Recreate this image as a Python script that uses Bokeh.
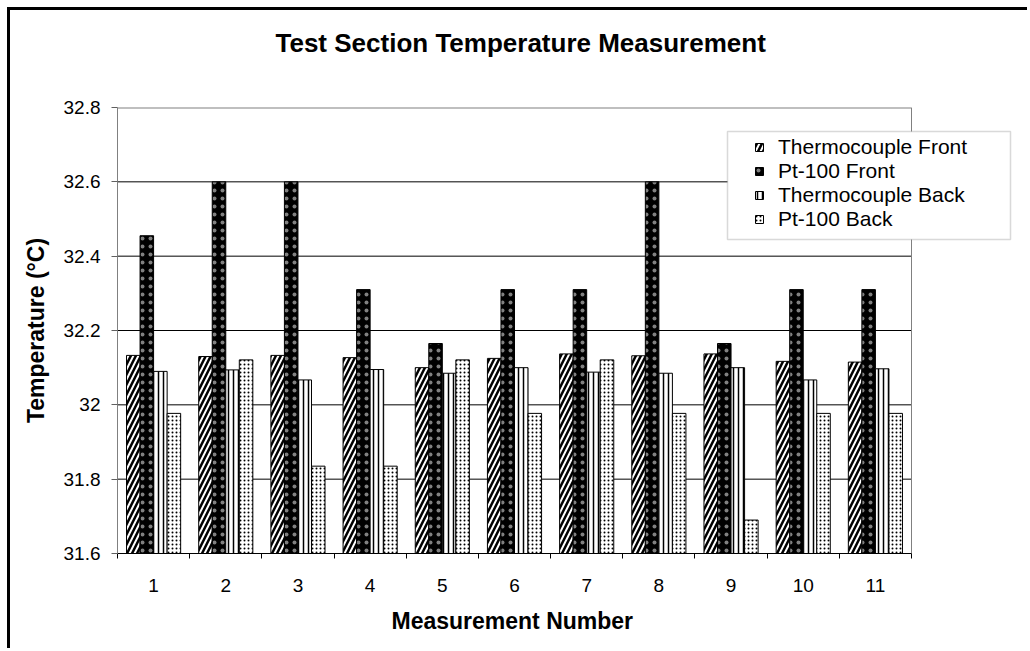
from bokeh.plotting import figure
from bokeh.models import (ColumnDataSource, FixedTicker, NumeralTickFormatter, Legend, LegendItem,
                          Range1d, BoxAnnotation, Title)
from bokeh.transform import dodge
from bokeh.embed import file_html
from bokeh.resources import INLINE

measurements = [1, 2, 3, 4, 5, 6, 7, 8, 9, 10, 11]
tc_front = [32.133, 32.130, 32.133, 32.127, 32.100, 32.125, 32.137, 32.132, 32.137, 32.117, 32.115]
pt_front = [32.455, 32.600, 32.600, 32.310, 32.165, 32.310, 32.310, 32.600, 32.165, 32.310, 32.310]
tc_back = [32.090, 32.094, 32.067, 32.095, 32.085, 32.100, 32.088, 32.085, 32.100, 32.067, 32.097]
pt_back = [31.977, 32.121, 31.835, 31.835, 32.121, 31.977, 32.121, 31.977, 31.690, 31.977, 31.977]
y_ticks = [31.6, 31.8, 32.0, 32.2, 32.4, 32.6, 32.8]
series_names = ["Thermocouple Front", "Pt-100 Front", "Thermocouple Back", "Pt-100 Back"]
chart_title = "Test Section Temperature Measurement"
x_title = "Measurement Number"
y_title = "Temperature (°C)"

src = ColumnDataSource(dict(x=measurements, tcf=tc_front, ptf=pt_front, tcb=tc_back, ptb=pt_back))

# layout (pixels); the figure sits 10px in from the window's top-left corner
W, H = 1020, 641
ML, MR, MT, MB = 107, 5, 97, 98
plot_px = 794                       # width of the visible category area
frame_px = W - ML - MR
n = len(measurements)
x0 = 0.5
x_end_cat = n + 0.5
x_end = x0 + n * frame_px / plot_px

p = figure(width=W, height=H, output_backend="svg", toolbar_location=None,
           x_range=Range1d(x0, x_end), y_range=Range1d(y_ticks[0], y_ticks[-1]),
           min_border_left=ML, min_border_right=MR, min_border_top=MT, min_border_bottom=MB,
           title=None)
p.styles = {"margin-left": "7px", "margin-top": "7px",
            "border-left": "3px solid black", "border-top": "3px solid black"}
p.outline_line_color = None

F = "Liberation Sans"

# titles in the side panels (first one added above sits next to the frame)
p.add_layout(Title(text=" ", text_font_size="10px", standoff=37), "above")
p.add_layout(Title(text=chart_title, text_font=F, text_font_size="26px", text_font_style="bold",
                   text_color="black", align="left", offset=158, standoff=0), "above")
p.add_layout(Title(text=x_title, text_font=F, text_font_size="23px", text_font_style="bold",
                   text_color="black", align="left", offset=274, standoff=22), "below")

# gridlines and plot-area edges restricted to the category area
grid_y = y_ticks[1:-1]
p.segment(x0=[x0] * len(grid_y), x1=[x_end_cat] * len(grid_y), y0=grid_y, y1=grid_y,
          line_color="black", line_width=1)
p.segment(x0=[x0], x1=[x_end_cat], y0=[y_ticks[-1]], y1=[y_ticks[-1]], line_color="#808080", line_width=2)
p.segment(x0=[x_end_cat], x1=[x_end_cat], y0=[y_ticks[0]], y1=[y_ticks[-1]], line_color="#808080", line_width=1)

w = 0.1875
base = y_ticks[0]
common = dict(width=w, bottom=base, source=src, line_color="black", line_width=1)
r1 = p.vbar(x=dodge("x", -1.5 * w, range=p.x_range), top="tcf", fill_color="white",
            hatch_pattern="right_diagonal_line", hatch_color="black", hatch_scale=10, hatch_weight=2.5, **common)
r2 = p.vbar(x=dodge("x", -0.5 * w, range=p.x_range), top="ptf", fill_color="black",
            hatch_pattern="dot", hatch_color="white", hatch_scale=8, hatch_weight=0.5, hatch_alpha=0.5, **common)
r3 = p.vbar(x=dodge("x", 0.5 * w, range=p.x_range), top="tcb", fill_color="white",
            hatch_pattern="vertical_line", hatch_color="black", hatch_scale=5, hatch_weight=1.5, **common)
r4 = p.vbar(x=dodge("x", 1.5 * w, range=p.x_range), top="ptb", fill_color="white",
            hatch_pattern="dot", hatch_color="black", hatch_scale=4, hatch_weight=2, **common)

# axes
p.xaxis.bounds = (x0, x_end_cat)
p.xaxis.ticker = FixedTicker(ticks=measurements, minor_ticks=[m + 0.5 for m in [0] + measurements])
p.xaxis.major_tick_out = 0
p.xaxis.major_tick_in = 0
p.xaxis.minor_tick_out = 5
p.xaxis.minor_tick_in = 0
p.xaxis.minor_tick_line_color = "black"
p.xaxis.axis_line_color = "black"
p.xaxis.major_label_standoff = 20

p.yaxis.ticker = FixedTicker(ticks=y_ticks)
p.yaxis.formatter = NumeralTickFormatter(format="0.[0]")
p.yaxis.major_tick_out = 6
p.yaxis.major_tick_in = 0
p.yaxis.minor_tick_out = 0
p.yaxis.minor_tick_in = 0
p.yaxis.axis_line_color = "#808080"
p.yaxis.major_tick_line_color = "#606060"
p.yaxis.major_label_standoff = 11
p.yaxis.axis_label = y_title
p.yaxis.axis_label_standoff = 12

for ax in (p.xaxis[0], p.yaxis[0]):
    ax.major_label_text_font = F
    ax.major_label_text_font_size = "19px"
    ax.major_label_text_color = "black"
    ax.axis_label_text_font = F
    ax.axis_label_text_font_size = "23px"
    ax.axis_label_text_font_style = "bold"
    ax.axis_label_text_color = "black"

p.xgrid.grid_line_color = None
p.ygrid.grid_line_color = None

# legend frame (canvas pixels)
box = BoxAnnotation(left=714, right=997, top=118, bottom=226,
                    left_units="canvas", right_units="canvas", top_units="canvas", bottom_units="canvas",
                    fill_color="white", fill_alpha=1, line_color="#808080", line_width=1.5)
p.add_layout(box)

legend = Legend(items=[LegendItem(label=nm, renderers=[r]) for nm, r in zip(series_names, [r1, r2, r3, r4])],
                location=(637, 322))
legend.label_text_font = F
legend.label_text_font_size = "21px"
legend.label_text_color = "black"
legend.label_height = 24
legend.glyph_height = 10
legend.glyph_width = 10
legend.label_standoff = 14
legend.spacing = 0
legend.padding = 4
legend.margin = 0
legend.border_line_color = None
legend.background_fill_alpha = 0
p.add_layout(legend, "center")

open("out.html", "w").write(file_html(p, INLINE))
